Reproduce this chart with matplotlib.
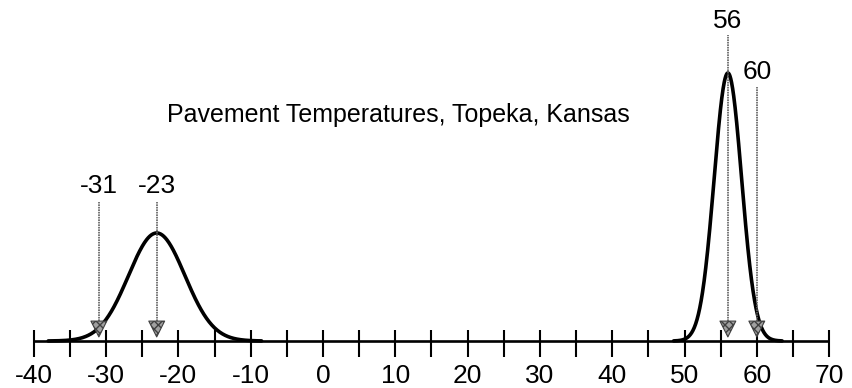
import numpy as np
import matplotlib
matplotlib.use("Agg")
import matplotlib.pyplot as plt

plt.rcParams['font.family'] = ['Liberation Sans', 'DejaVu Sans']

# ---- data ----
title = "Pavement Temperatures, Topeka, Kansas"
tick_values = list(range(-40, 71, 5))
tick_labels = [str(v) for v in range(-40, 71, 10)]
label_ticks = list(range(-40, 71, 10))

# two temperature distributions (normal): mean, std dev, relative peak height, plotted range
dist_means = [-23, 56]
dist_sds = [3.9, 1.9]
dist_peaks = [108, 268]
dist_lo = [-38, 48.5]
dist_hi = [-8.5, 63.5]

# marked temperatures (arrows)
marker_values = [-31, -23, 56, 60]
marker_labels = ["-31", "-23", "56", "60"]

# ---- layout (pixel-like units above the axis) ----
W, H, DPI = 852, 388, 100
fig = plt.figure(figsize=(W / DPI, H / DPI), dpi=DPI)
ax = fig.add_axes([0, 0, 1, 1])
px_per_unit = 7.23
x0_px = 323
axis_px = 341
ax.set_xlim(-x0_px / px_per_unit, (W - x0_px) / px_per_unit)
ax.set_ylim(-(H - axis_px), axis_px)
ax.axis('off')

# axis line + ticks
ax.hlines(0, tick_values[0], tick_values[-1], color='black', lw=1.9, zorder=2)
ax.vlines(tick_values, -16, 11, color='black', lw=1.5, zorder=2)
for v, lab in zip(label_ticks, tick_labels):
    ax.text(v, -35, lab, ha='center', va='center', fontsize=19, color='black')

# curves
for m, s, pk, lo, hi in zip(dist_means, dist_sds, dist_peaks, dist_lo, dist_hi):
    xs = np.linspace(lo, hi, 400)
    ys = pk * np.exp(-0.5 * ((xs - m) / s) ** 2)
    ax.plot(xs, ys, color='black', lw=2.6, zorder=3, solid_capstyle='round')

# arrows
label_y = [155, 155, 320, 269]
line_top = [139, 139, 306, 254]
for v, lab, ly, lt in zip(marker_values, marker_labels, label_y, line_top):
    ax.vlines(v, 10, lt, color='#606060', lw=1.2, linestyles=(0, (1, 0.5)), zorder=4)
    ax.scatter([v], [12], marker='v', s=130, facecolor='#a0a0a0',
               edgecolor='#404040', hatch='xxxx', linewidths=0.8, zorder=5)
    ax.text(v, ly, lab, ha='center', va='center', fontsize=19, color='black')

ax.text(10.4, 226, title, ha='center', va='center', fontsize=18, color='black')

fig.savefig('out.png', dpi=DPI)
